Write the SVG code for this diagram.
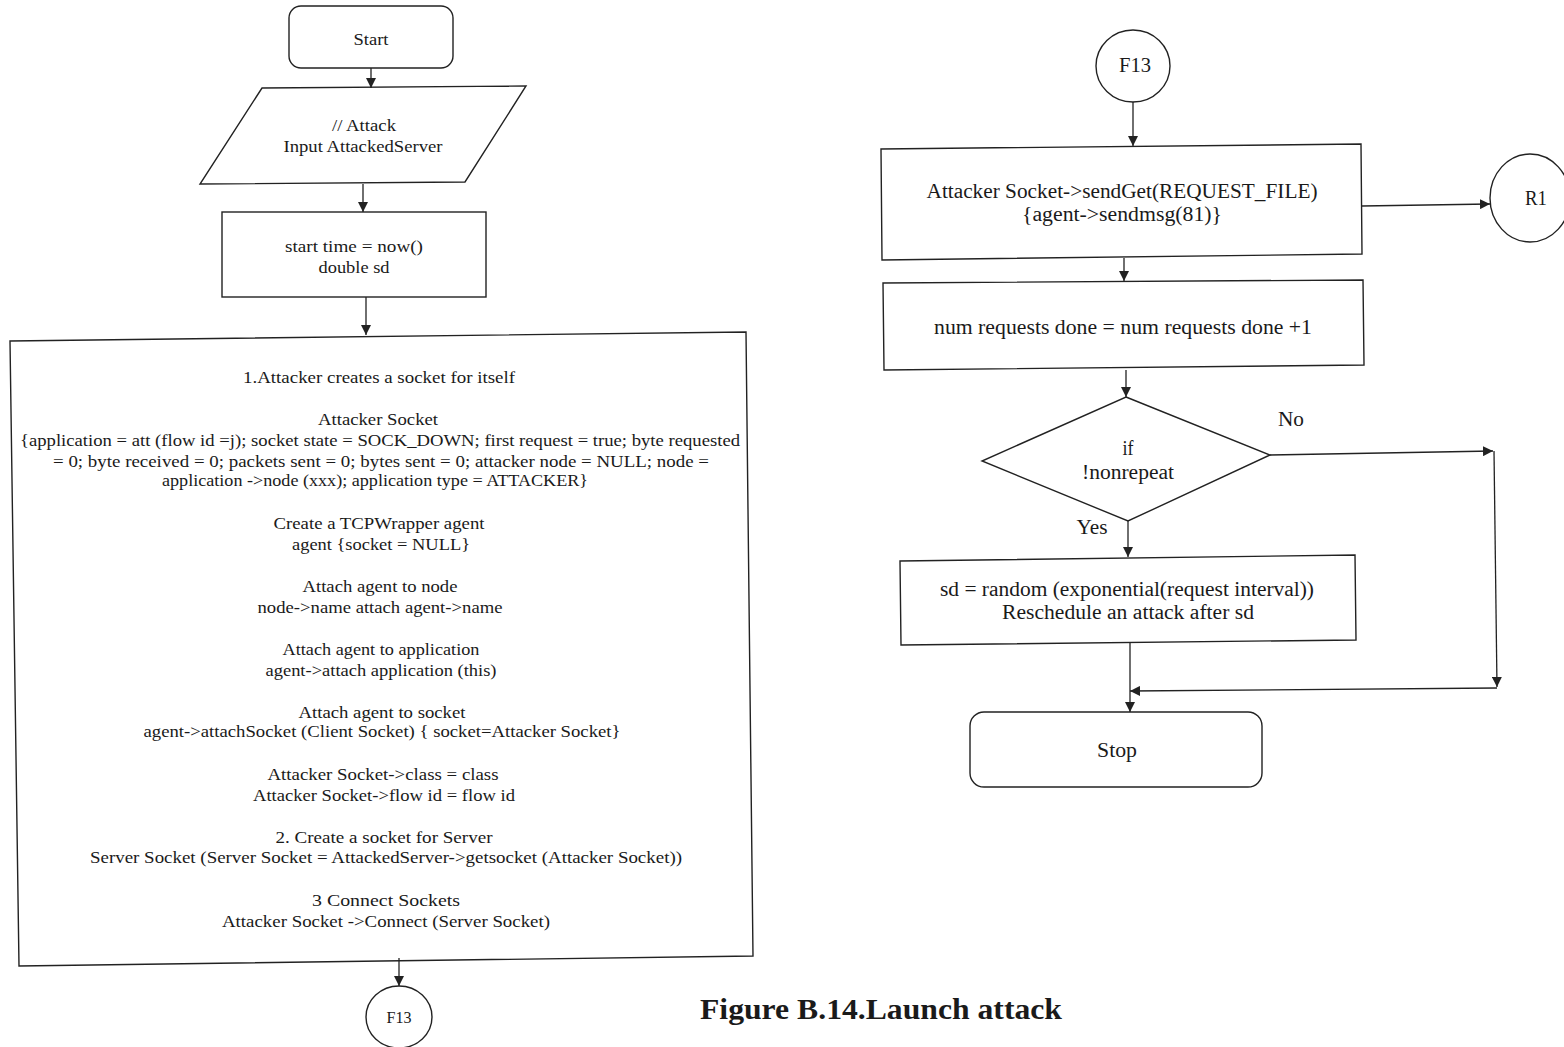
<svg xmlns="http://www.w3.org/2000/svg" width="1564" height="1047" viewBox="0 0 1564 1047">
  <defs>
    <marker id="arrow" viewBox="0 0 10 10" refX="10" refY="5" markerWidth="10" markerHeight="10" markerUnits="userSpaceOnUse" orient="auto">
      <path d="M0,0 L10,5 L0,10 z" fill="#222"/>
    </marker>
    <style>
      .shape { fill: #fff; stroke: #222; stroke-width: 1.4; }
      .edge { fill: none; stroke: #222; stroke-width: 1.3; marker-end: url(#arrow); }
      text { font-family: "Liberation Serif", "Times New Roman", serif; fill: #1a1a1a; text-anchor: middle; }
      .s { font-size: 17px; }
      .m { font-size: 20px; }
      .cap { font-size: 29px; font-weight: bold; text-anchor: start; }
    </style>
  </defs>

  <!-- left column: start and setup -->
  <g id="start">
    <rect class="shape" x="289" y="6" width="164" height="62" rx="12"/>
    <text class="s" x="371" y="45" textLength="35" lengthAdjust="spacingAndGlyphs">Start</text>
  </g>

  <g id="input-attack">
    <polygon class="shape" points="262,88 526,86 465,182 200,184"/>
    <text class="s" x="364" y="131" textLength="64" lengthAdjust="spacingAndGlyphs">// Attack</text>
    <text class="s" x="363" y="152" textLength="159" lengthAdjust="spacingAndGlyphs">Input AttackedServer</text>
  </g>

  <g id="init-time">
    <rect class="shape" x="222" y="212" width="264" height="85"/>
    <text class="s" x="354" y="252" textLength="138" lengthAdjust="spacingAndGlyphs">start time = now()</text>
    <text class="s" x="354" y="273" textLength="71" lengthAdjust="spacingAndGlyphs">double sd</text>
  </g>

  <g id="create-sockets">
    <polygon class="shape" points="10,341 746,332 753,956 19,966"/>
    <text class="s" x="379" y="383" textLength="272" lengthAdjust="spacingAndGlyphs">1.Attacker creates a socket for itself</text>
    <text class="s" x="378" y="425" textLength="120" lengthAdjust="spacingAndGlyphs">Attacker Socket</text>
    <text class="s" x="380" y="446" textLength="720" lengthAdjust="spacingAndGlyphs">{application = att (flow id =j); socket state = SOCK_DOWN; first request = true; byte requested</text>
    <text class="s" x="381" y="467" textLength="656" lengthAdjust="spacingAndGlyphs">= 0; byte received = 0; packets sent = 0; bytes sent = 0; attacker node = NULL; node =</text>
    <text class="s" x="375" y="486" textLength="426" lengthAdjust="spacingAndGlyphs">application -&gt;node (xxx); application type = ATTACKER}</text>
    <text class="s" x="379" y="529" textLength="211" lengthAdjust="spacingAndGlyphs">Create a TCPWrapper agent</text>
    <text class="s" x="381" y="550" textLength="178" lengthAdjust="spacingAndGlyphs">agent {socket = NULL}</text>
    <text class="s" x="380" y="592" textLength="155" lengthAdjust="spacingAndGlyphs">Attach agent to node</text>
    <text class="s" x="380" y="613" textLength="245" lengthAdjust="spacingAndGlyphs">node-&gt;name attach agent-&gt;name</text>
    <text class="s" x="381" y="655" textLength="197" lengthAdjust="spacingAndGlyphs">Attach agent to application</text>
    <text class="s" x="381" y="676" textLength="231" lengthAdjust="spacingAndGlyphs">agent-&gt;attach application (this)</text>
    <text class="s" x="382" y="718" textLength="167" lengthAdjust="spacingAndGlyphs">Attach agent to socket</text>
    <text class="s" x="382" y="737" textLength="477" lengthAdjust="spacingAndGlyphs">agent-&gt;attachSocket (Client Socket) { socket=Attacker Socket}</text>
    <text class="s" x="383" y="780" textLength="231" lengthAdjust="spacingAndGlyphs">Attacker Socket-&gt;class = class</text>
    <text class="s" x="384" y="801" textLength="262" lengthAdjust="spacingAndGlyphs">Attacker Socket-&gt;flow id = flow id</text>
    <text class="s" x="384" y="843" textLength="217" lengthAdjust="spacingAndGlyphs">2. Create a socket for Server</text>
    <text class="s" x="386" y="863" textLength="592" lengthAdjust="spacingAndGlyphs">Server Socket (Server Socket = AttackedServer-&gt;getsocket (Attacker Socket))</text>
    <text class="s" x="386" y="906" textLength="148" lengthAdjust="spacingAndGlyphs">3  Connect Sockets</text>
    <text class="s" x="386" y="927" textLength="328" lengthAdjust="spacingAndGlyphs">Attacker Socket -&gt;Connect (Server Socket)</text>
  </g>

  <g id="f13-out">
    <ellipse class="shape" cx="399" cy="1017" rx="33" ry="31"/>
    <text class="s" x="399" y="1023" textLength="25" lengthAdjust="spacingAndGlyphs">F13</text>
  </g>

  <!-- right column: request loop -->
  <g id="f13-in">
    <ellipse class="shape" cx="1133" cy="66" rx="37" ry="36"/>
    <text class="m" x="1135" y="72" textLength="32" lengthAdjust="spacingAndGlyphs">F13</text>
  </g>

  <g id="send-get">
    <polygon class="shape" points="881,149 1361,144 1362,254 882,260"/>
    <text class="m" x="1122" y="198" textLength="391" lengthAdjust="spacingAndGlyphs">Attacker Socket-&gt;sendGet(REQUEST_FILE)</text>
    <text class="m" x="1122" y="221" textLength="200" lengthAdjust="spacingAndGlyphs">{agent-&gt;sendmsg(81)}</text>
  </g>

  <g id="r1">
    <ellipse class="shape" cx="1530" cy="198" rx="40" ry="44"/>
    <text class="m" x="1536" y="205" textLength="22" lengthAdjust="spacingAndGlyphs">R1</text>
  </g>

  <g id="count-requests">
    <polygon class="shape" points="883,283 1363,280 1364,365 884,370"/>
    <text class="m" x="1123" y="334" textLength="378" lengthAdjust="spacingAndGlyphs">num requests done = num requests done +1</text>
  </g>

  <g id="repeat-check">
    <polygon class="shape" points="1126,397 1270,455 1128,521 982,461"/>
    <text class="m" x="1128" y="455" textLength="11" lengthAdjust="spacingAndGlyphs">if</text>
    <text class="m" x="1128" y="479" textLength="92" lengthAdjust="spacingAndGlyphs">!nonrepeat</text>
  </g>

  <g id="reschedule">
    <polygon class="shape" points="900,561 1355,555 1356,640 901,645"/>
    <text class="m" x="1127" y="596" textLength="374" lengthAdjust="spacingAndGlyphs">sd = random (exponential(request interval))</text>
    <text class="m" x="1128" y="619" textLength="252" lengthAdjust="spacingAndGlyphs">Reschedule an attack after sd</text>
  </g>

  <g id="stop">
    <rect class="shape" x="970" y="712" width="292" height="75" rx="14"/>
    <text class="m" x="1117" y="757" textLength="40" lengthAdjust="spacingAndGlyphs">Stop</text>
  </g>

  <g id="edge-labels">
    <text class="m" x="1291" y="426" textLength="26" lengthAdjust="spacingAndGlyphs">No</text>
    <text class="m" x="1092" y="534" textLength="31" lengthAdjust="spacingAndGlyphs">Yes</text>
  </g>

  <g id="caption">
    <text class="cap" x="700" y="1019" textLength="362" lengthAdjust="spacingAndGlyphs">Figure B.14.Launch attack</text>
  </g>

  <!-- connectors -->
  <g id="connectors">
    <line class="edge" x1="371" y1="68" x2="371" y2="88"/>
    <line class="edge" x1="363" y1="184" x2="363" y2="212"/>
    <line class="edge" x1="366" y1="297" x2="366" y2="335"/>
    <line class="edge" x1="399" y1="958" x2="399" y2="986"/>
    <line class="edge" x1="1133" y1="102" x2="1133" y2="146"/>
    <line class="edge" x1="1362" y1="206" x2="1490" y2="204"/>
    <line class="edge" x1="1124" y1="258" x2="1124" y2="281"/>
    <line class="edge" x1="1126" y1="370" x2="1126" y2="397"/>
    <line class="edge" x1="1270" y1="455" x2="1493" y2="451"/>
    <line class="edge" x1="1494" y1="451" x2="1497" y2="687"/>
    <line class="edge" x1="1497" y1="688" x2="1130" y2="691"/>
    <line class="edge" x1="1128" y1="521" x2="1128" y2="557"/>
    <line class="edge" x1="1130" y1="643" x2="1130" y2="712"/>
  </g>
</svg>
